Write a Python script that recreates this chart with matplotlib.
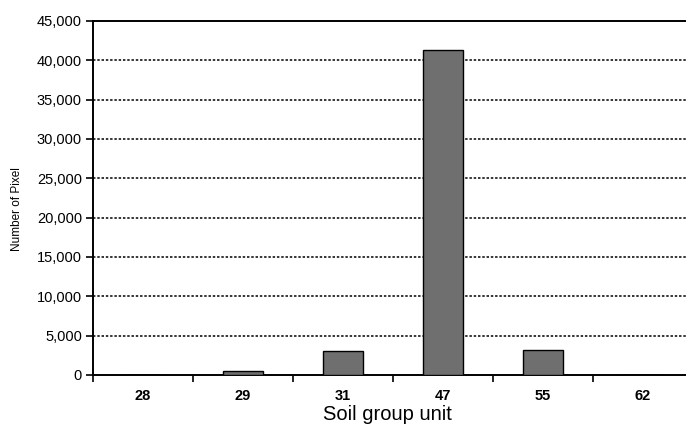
import matplotlib.pyplot as plt
import numpy as np
from matplotlib.ticker import FuncFormatter, MultipleLocator

# pixel counts per soil group unit
soil_units = ["28", "29", "31", "47", "55", "62"]
pixel_counts = [0, 500, 3000, 41300, 3150, 0]
y_ticks = [0, 5000, 10000, 15000, 20000, 25000, 30000, 35000, 40000, 45000]

plt.rcParams['font.family'] = ['Liberation Sans', 'DejaVu Sans']

fig = plt.figure(figsize=(6.86, 4.29), dpi=100)
# the plot area runs slightly past the right edge of the figure
ax = fig.add_axes([93 / 686, 54 / 429, 600 / 686, 354 / 429])

x = np.arange(len(soil_units))
ax.bar(x, pixel_counts, width=0.4, color="#6f6f6f", edgecolor="black",
       linewidth=1.0, zorder=3)

ax.set_xlim(-0.5, len(soil_units) - 0.5)
ax.set_ylim(0, 45000)
ax.set_yticks(y_ticks)
ax.yaxis.set_major_formatter(FuncFormatter(lambda v, p: f"{int(v):,}"))

# dotted gridlines between the axis limits
for v in y_ticks[1:-1]:
    ax.axhline(v, color="black", linestyle=(0, (1.6, 1.2)), linewidth=1.1, zorder=1)

ax.set_xticks(x)
ax.set_xticklabels(soil_units, fontsize=10.5, fontweight="bold")
ax.xaxis.set_minor_locator(MultipleLocator(1, offset=0.5))
ax.tick_params(axis="x", which="major", length=0, pad=10)
ax.tick_params(axis="x", which="minor", direction="out", length=5, width=1.2)
ax.tick_params(axis="y", direction="out", length=5, width=1.2, labelsize=10.5, pad=3)

for side in ["left", "bottom", "top"]:
    ax.spines[side].set_linewidth(1.4)
ax.spines["right"].set_visible(False)

ax.set_xlabel("Soil group unit", fontsize=14.5, labelpad=3)
ax.xaxis.set_label_coords(0.49, -0.085)
ax.set_ylabel("Number of Pixel", fontsize=8.5)
ax.yaxis.set_label_coords(-0.117, 0.47)

fig.savefig("out.png", dpi=100)
